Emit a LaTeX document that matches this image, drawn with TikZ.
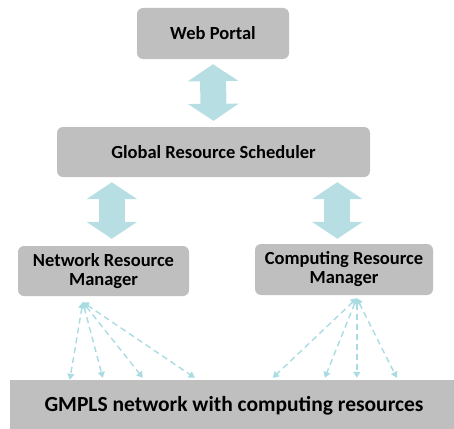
\documentclass[tikz,border=0pt]{standalone}
\usepackage{fontspec}
\setmainfont{Carlito}
\usetikzlibrary{arrows.meta,calc}
\definecolor{boxgray}{HTML}{BFBFBF}
\definecolor{arrowblue}{HTML}{B7DFE3}
\definecolor{dashblue}{HTML}{A9DCE2}
\tikzset{
  box/.style={fill=boxgray, rounded corners=6pt, draw=none, align=center, font=\bfseries\fontsize{18.5}{19}\selectfont, inner sep=0pt},
  dblarrow/.style={draw=arrowblue, line width=26pt, {Triangle[width=50pt,length=17pt]}-{Triangle[width=50pt,length=17pt]}},
  dasharr/.style={draw=dashblue, line width=1.4pt, dash pattern=on 6pt off 4pt, {Triangle[width=7pt,length=6pt]}-{Triangle[width=7pt,length=6pt]}}
}
\begin{document}
\begin{tikzpicture}[x=1pt,y=-1pt]
\useasboundingbox (0,0) rectangle (454,428);
\node[box, minimum width=152pt, minimum height=51pt] (wp) at (213,33.5) {Web Portal};
\node[box, minimum width=313pt, minimum height=50pt] (grs) at (213.5,152) {Global Resource Scheduler};
\node[box, minimum width=171pt, minimum height=50pt] (nrm) at (103.5,271) {Network Resource\\Manager};
\node[box, minimum width=178pt, minimum height=51pt] (crm) at (344,269.5) {Computing Resource\\Manager};
\node[fill=boxgray, draw=none, minimum width=450pt, minimum height=50pt, inner sep=0pt] (gm) at (235,405) {};
\node[font=\bfseries\fontsize{21.5}{22}\selectfont, inner sep=0pt] (gmt) at (234,406) {GMPLS network with computing resources};
% block arrows
\draw[dblarrow] ($(wp.south)+(0,5)$) -- ($(grs.north)+(0,-6)$);
\draw[dblarrow] ($(grs.south west)+(55,5)$) -- ($(nrm.north west)+(94,-7)$);
\draw[dblarrow] ($(grs.south west)+(280.5,5)$) -- ($(crm.north west)+(82.5,-5)$);
% dashed arrows
\coordinate (lo) at ($(nrm.south west)+(65,6)$);
\coordinate (ro) at ($(crm.south west)+(102,3)$);
\coordinate (l1) at ($(gm.north west)+(60,0)$);
\coordinate (l2) at ($(gm.north west)+(93,-2)$);
\coordinate (l3) at ($(gm.north west)+(133,-2)$);
\coordinate (l4) at ($(gm.north west)+(185,-2)$);
\coordinate (r1) at ($(gm.north west)+(263,-2)$);
\coordinate (r2) at ($(gm.north west)+(315,-2)$);
\coordinate (r3) at ($(gm.north west)+(347,-2)$);
\coordinate (r4) at ($(gm.north west)+(387,-2)$);
\foreach \t in {l1,l2,l3,l4} \draw[dasharr] (lo) -- (\t);
\foreach \t in {r1,r2,r3,r4} \draw[dasharr] (ro) -- (\t);
\end{tikzpicture}
\end{document}
